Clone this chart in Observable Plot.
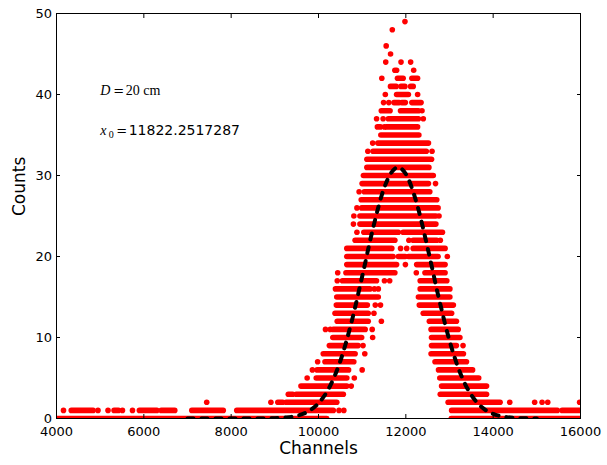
<!DOCTYPE html>
<html>
<head>
<meta charset="utf-8">
<script src="https://cdn.jsdelivr.net/npm/d3@7"></script>
<script src="https://cdn.jsdelivr.net/npm/@observablehq/plot@0.6"></script>
<style>
  body { margin: 0; background: #fff; }
</style>
</head>
<body>
<div id="chart"></div>
<script>
// Axis ticks
const xTicks = [4000, 6000, 8000, 10000, 12000, 14000, 16000];
const yTicks = [0, 10, 20, 30, 40, 50];

// Measured spectrum: runs of consecutive channels sharing one count value,
// given as [count, first channel, last channel]
const runs = [
  [0, 4000, 10200], [0, 13050, 16000],
  [1, 4350, 4850], [1, 5330, 5430], [1, 5910, 6310], [1, 6410, 6720], [1, 7110, 7830],
  [1, 8140, 10350], [1, 13060, 15480], [1, 15590, 16000],
  [2, 9080, 9190], [2, 9270, 10430], [2, 12980, 14170],
  [3, 9320, 9420], [3, 9500, 10580], [3, 12800, 13860],
  [4, 9610, 10660], [4, 12830, 13860],
  [5, 9960, 10660], [5, 12790, 13680],
  [6, 9980, 10700], [6, 12760, 13540],
  [7, 10160, 10820], [7, 12680, 13400],
  [8, 10120, 10850], [8, 12590, 13330],
  [9, 10260, 10920], [9, 12600, 13170],
  [10, 10340, 11000], [10, 12600, 13250],
  [11, 10350, 11080], [11, 12590, 13210],
  [12, 10440, 11150], [12, 12550, 13170],
  [13, 10390, 11150], [13, 12410, 13060],
  [14, 10420, 11130], [14, 12320, 13100],
  [15, 10430, 11380], [15, 12300, 13020],
  [16, 10400, 11190], [16, 12340, 13020],
  [17, 10560, 11340], [17, 12340, 12950],
  [18, 10640, 11760], [18, 12450, 12910],
  [19, 10660, 11800], [19, 12260, 12910],
  [20, 10660, 11720], [20, 11840, 12000], [20, 12070, 12750],
  [21, 10660, 11690], [21, 12180, 12910],
  [22, 10850, 11760], [22, 12180, 12720],
  [23, 11050, 11840], [23, 11950, 12850],
  [24, 10960, 12700],
  [25, 10960, 12700],
  [26, 11000, 12750],
  [27, 10990, 12720],
  [28, 11060, 12560],
  [29, 11010, 12530],
  [30, 11040, 12640],
  [31, 11120, 12540],
  [32, 11120, 12600],
  [33, 11260, 12480],
  [34, 11370, 12530],
  [35, 11440, 12310],
  [36, 11360, 11430], [36, 11570, 12280],
  [37, 11610, 12300],
  [38, 11450, 11650], [38, 11890, 12300],
  [39, 11740, 11860], [39, 11920, 12000], [39, 12150, 12360],
  [40, 11800, 12070],
  [41, 11660, 11790], [41, 11900, 11990], [41, 12120, 12180],
  [42, 11820, 11950], [42, 12150, 12280],
  [43, 11760, 11800]
];

// Isolated channels, given as [count, channel]
const singles = [
  [1, 4160], [1, 4950], [1, 5180], [1, 5510], [1, 5740], [1, 10470], [1, 10580],
  [2, 7440], [2, 8910], [2, 14380], [2, 14950], [2, 15120], [2, 15250], [2, 15980],
  [4, 10750],
  [5, 9740], [5, 10820],
  [6, 9860], [6, 11000],
  [7, 9980],
  [8, 11060],
  [9, 11020], [9, 13310],
  [10, 11240],
  [11, 10160], [11, 10270], [11, 11230],
  [12, 11440],
  [13, 11270],
  [14, 11300], [14, 11420],
  [16, 11280], [16, 11370],
  [17, 10430], [17, 11510], [17, 11630],
  [18, 10440], [18, 12240],
  [19, 11990],
  [20, 12950],
  [21, 11880], [21, 12020],
  [22, 12070], [22, 12790],
  [23, 10880],
  [24, 10800],
  [25, 10810], [25, 12760],
  [26, 10880],
  [28, 10930],
  [29, 12680],
  [33, 11130], [33, 12600],
  [34, 11240],
  [36, 11510],
  [37, 11330], [37, 11480], [37, 12400],
  [38, 12370],
  [39, 11490], [39, 11610],
  [40, 11530], [40, 12270],
  [42, 11450],
  [43, 12180],
  [44, 11540], [44, 11890], [44, 12110],
  [45, 11650],
  [46, 11550],
  [48, 11690],
  [49, 11980]
];

// Fitted peak curve, sampled along the channel axis
const fitChannels = [7000, 7500, 8000, 8500, 8750, 9000, 9250, 9500, 9750, 10000,
  10250, 10500, 10750, 11000, 11250, 11500, 11750, 11822.2517287, 12000, 12250,
  12500, 12750, 13000, 13250, 13500, 13750, 14000, 14250, 14500, 14750, 15000];
const fitCounts = [0, 0, 0, 0.003, 0.011, 0.037, 0.12, 0.33, 0.83, 1.89,
  3.85, 7.10, 11.77, 17.53, 23.52, 28.41, 30.86, 31.0, 30.18, 26.56,
  21.04, 15.00, 9.62, 5.55, 2.89, 1.35, 0.57, 0.215, 0.073, 0.022, 0.006];

// Annotation text
const distanceLabel = "20 cm";
const centerLabel = "11822.2517287";
const noteX = 5000;
const noteRowsY = [40, 35];

const fit = fitChannels.map((c, i) => ({channel: c, count: fitCounts[i]}));

const serif = "Liberation Serif, DejaVu Serif, serif";
const sans = "DejaVu Sans, sans-serif";

const chart = Plot.plot({
  width: 607,
  height: 465,
  marginLeft: 56,
  marginRight: 27,
  marginTop: 13,
  marginBottom: 47,
  style: {fontFamily: sans, fontSize: "13px", color: "black", background: "white", overflow: "visible"},
  x: {domain: [4000, 16000]},
  y: {domain: [0, 50]},
  marks: [
    Plot.ruleY(runs, {
      y: d => d[0], x1: d => d[1], x2: d => d[2],
      stroke: "#ff0000", strokeWidth: 5.6, strokeLinecap: "round", clip: true
    }),
    Plot.dot(singles, {
      x: d => d[1], y: d => d[0], r: 2.8, fill: "#ff0000", stroke: "none", clip: true
    }),
    Plot.line(fit, {
      x: "channel", y: "count", stroke: "black", strokeWidth: 4,
      strokeDasharray: "6,8", curve: "monotone-x", clip: true
    }),
    Plot.frame({stroke: "black", strokeWidth: 1}),
    Plot.axisX(xTicks, {anchor: "bottom", tickSize: -4, tickPadding: 12, tickFormat: d3.format("d"), label: null, fontSize: 13}),
    Plot.axisX(xTicks, {anchor: "top", tickSize: -4, tickFormat: () => "", label: null}),
    Plot.axisY(yTicks, {anchor: "left", tickSize: -4, tickPadding: 8.5, tickFormat: d3.format("d"), label: null, fontSize: 13}),
    Plot.axisY(yTicks, {anchor: "right", tickSize: -4, tickFormat: () => "", label: null}),
    Plot.text(["Channels"], {frameAnchor: "bottom", dy: 35, fontSize: 17, fontFamily: sans}),
    Plot.text(["Counts"], {frameAnchor: "left", dx: -36.5, rotate: -90, fontSize: 17, fontFamily: sans}),
    // D = 20 cm
    Plot.text(["D"], {x: noteX, y: noteRowsY[0], textAnchor: "start", lineAnchor: "bottom",
      fontFamily: serif, fontStyle: "italic", fontSize: 14}),
    Plot.text(["="], {x: noteX, y: noteRowsY[0], dx: 13, textAnchor: "start", lineAnchor: "bottom",
      fontFamily: "DejaVu Serif", fontSize: 13}),
    Plot.text([distanceLabel], {x: noteX, y: noteRowsY[0], dx: 25.5, textAnchor: "start", lineAnchor: "bottom",
      fontFamily: serif, fontSize: 14}),
    // x0 = fitted centre
    Plot.text(["x"], {x: noteX, y: noteRowsY[1], textAnchor: "start", lineAnchor: "bottom",
      fontFamily: serif, fontStyle: "italic", fontSize: 14}),
    Plot.text(["0"], {x: noteX, y: noteRowsY[1], dx: 8.5, dy: 2.5, textAnchor: "start", lineAnchor: "bottom",
      fontFamily: serif, fontSize: 10}),
    Plot.text(["="], {x: noteX, y: noteRowsY[1], dx: 16, textAnchor: "start", lineAnchor: "bottom",
      fontFamily: "DejaVu Serif", fontSize: 13}),
    Plot.text([centerLabel], {x: noteX, y: noteRowsY[1], dx: 28.5, textAnchor: "start", lineAnchor: "bottom",
      fontFamily: sans, fontSize: 14})
  ]
});

document.getElementById("chart").appendChild(chart);
</script>
</body>
</html>
